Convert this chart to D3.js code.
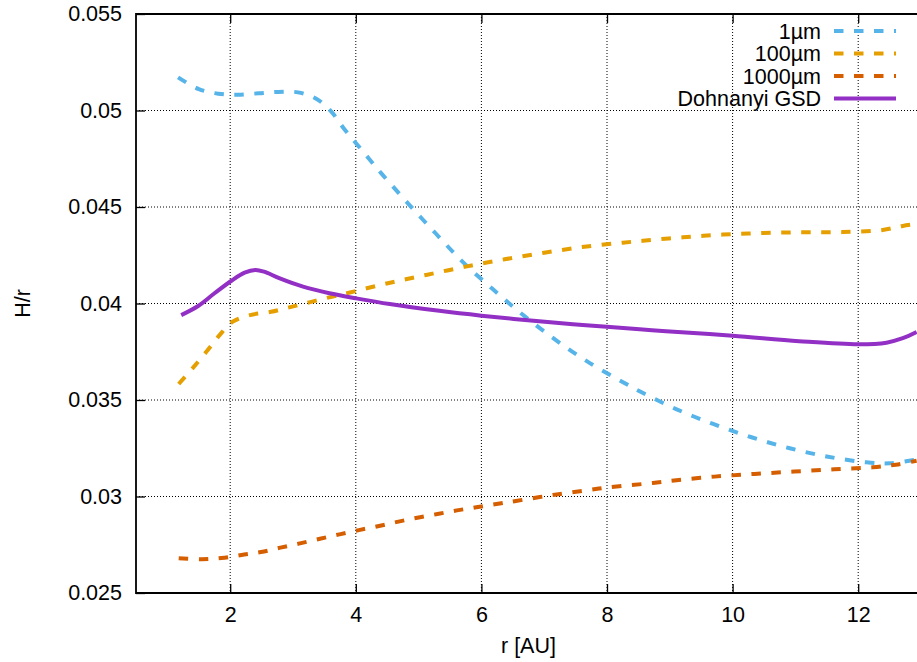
<!DOCTYPE html>
<html>
<head>
<meta charset="utf-8">
<script src="https://cdn.jsdelivr.net/npm/d3@7"></script>
<style>
  body { margin: 0; background: #fff; }
  svg { display: block; font-family: 'Liberation Sans', Arial, sans-serif; }
</style>
</head>
<body>
<div id="viz"></div>
<script>
// Données
const r1um = [1.17, 1.5, 1.81, 2.11, 2.45, 2.76, 3.08, 3.37, 3.61, 3.80, 4.0, 4.21, 4.41, 4.83, 5.27, 5.71, 6.18, 6.65, 7.17, 7.69, 8.24, 8.52, 9.10, 9.69, 10.30, 10.91, 11.52, 12.13, 12.50, 12.93];
const h1um = [0.05172, 0.05111, 0.05087, 0.05082, 0.05089, 0.05096, 0.05094, 0.05061, 0.04994, 0.04911, 0.04832, 0.0475, 0.04673, 0.04519, 0.04364, 0.04213, 0.04075, 0.03944, 0.03814, 0.03699, 0.03595, 0.03545, 0.03453, 0.03376, 0.03307, 0.0325, 0.03206, 0.03177, 0.03172, 0.03192];

const r100um = [1.18, 1.40, 1.62, 1.82, 2.04, 2.32, 2.65, 2.94, 3.26, 3.58, 3.89, 4.51, 5.12, 5.75, 6.37, 7.0, 7.64, 8.25, 8.57, 9.21, 9.84, 10.48, 11.12, 11.75, 12.39, 12.71, 12.93];
const h100um = [0.03583, 0.03664, 0.0375, 0.03832, 0.03906, 0.0394, 0.03957, 0.0398, 0.04006, 0.04032, 0.04056, 0.04105, 0.04148, 0.04191, 0.04229, 0.04263, 0.04294, 0.04315, 0.04325, 0.04343, 0.04357, 0.04365, 0.04369, 0.0437, 0.04381, 0.04402, 0.04412];

const r1000um = [1.18, 1.55, 1.86, 2.18, 2.49, 2.80, 3.11, 3.43, 3.74, 4.05, 4.37, 4.68, 4.98, 5.30, 5.61, 5.92, 6.24, 6.55, 7.14, 7.72, 8.04, 8.73, 9.07, 9.71, 10.35, 10.98, 11.62, 12.23, 12.6, 12.93];
const h1000um = [0.0268, 0.02675, 0.02681, 0.02697, 0.02712, 0.02735, 0.02757, 0.02781, 0.02804, 0.02826, 0.02847, 0.0287, 0.0289, 0.02909, 0.02928, 0.02944, 0.02961, 0.02977, 0.03008, 0.03034, 0.03048, 0.0307, 0.03083, 0.03103, 0.03117, 0.03129, 0.03141, 0.03151, 0.03165, 0.03185];

const rGSD = [1.22, 1.49, 1.75, 2.02, 2.23, 2.40, 2.54, 2.78, 3.16, 3.58, 4.0, 4.54, 5.33, 6.0, 6.92, 7.72, 8.52, 8.94, 10.0, 11.06, 12.0, 12.45, 12.71, 12.93];
const hGSD = [0.0394, 0.03987, 0.04053, 0.04118, 0.0416, 0.04174, 0.04165, 0.04131, 0.04087, 0.04053, 0.04027, 0.03997, 0.03962, 0.03937, 0.03908, 0.03886, 0.03866, 0.03856, 0.03833, 0.03805, 0.03789, 0.03797, 0.0382, 0.03852];

const seriesNames = ['1µm', '100µm', '1000µm', 'Dohnanyi GSD'];
const seriesColors = ['#56b4e9', '#e69f00', '#d55e00', '#922fc4'];
const seriesDashed = [true, true, true, false];

const xTicks = [2, 4, 6, 8, 10, 12];
const yTicks = [0.025, 0.03, 0.035, 0.04, 0.045, 0.05, 0.055];
const xDomain = [0.5, 13];
const yDomain = [0.025, 0.055];

const config = {
  width: 917,
  height: 662,
  margin: { left: 136, top: 14, right: -4, bottom: 69 },
  fontSize: 21.5,
  tickSize: 9,
  lineWidth: 4,
  dash: '9.5,10.5'
};
const plotW = config.width - config.margin.left - config.margin.right;
const plotH = config.height - config.margin.top - config.margin.bottom;

const svg = d3.select('#viz').append('svg')
  .attr('width', config.width)
  .attr('height', config.height);

const g = svg.append('g')
  .attr('transform', `translate(${config.margin.left}, ${config.margin.top})`);

const xScale = d3.scaleLinear().domain(xDomain).range([0, plotW]);
const yScale = d3.scaleLinear().domain(yDomain).range([plotH, 0]);

const data = [
  r1um.map((r, i) => ({ r: r, h: h1um[i] })),
  r100um.map((r, i) => ({ r: r, h: h100um[i] })),
  r1000um.map((r, i) => ({ r: r, h: h1000um[i] })),
  rGSD.map((r, i) => ({ r: r, h: hGSD[i] }))
];

drawGrid();
drawAxes();
drawLines();
drawLabels();
drawLegend();

/**
 * Grille pointillée
 */
function drawGrid () {
  const grid = g.append('g').attr('class', 'grid')
    .attr('stroke', '#000')
    .attr('stroke-width', 1)
    .attr('stroke-dasharray', '1,2');

  grid.selectAll('.vgrid')
    .data(xTicks)
    .enter()
    .append('line')
    .attr('x1', d => xScale(d)).attr('x2', d => xScale(d))
    .attr('y1', 0).attr('y2', plotH);

  grid.selectAll('.hgrid')
    .data(yTicks.slice(1, -1))
    .enter()
    .append('line')
    .attr('x1', 0).attr('x2', plotW)
    .attr('y1', d => yScale(d)).attr('y2', d => yScale(d));
}

/**
 * Axes façon gnuplot : ticks vers l'intérieur, miroir en haut
 */
function drawAxes () {
  const fmt = d => String(+d.toFixed(3));

  const xAxis = g.append('g')
    .attr('class', 'x axis')
    .attr('transform', `translate(0, ${plotH})`)
    .call(d3.axisBottom(xScale).tickValues(xTicks).tickSize(-config.tickSize).tickPadding(22).tickSizeOuter(0));

  const xTop = g.append('g')
    .attr('class', 'x axis top')
    .call(d3.axisTop(xScale).tickValues(xTicks).tickSize(-config.tickSize).tickFormat('').tickSizeOuter(0));

  const yAxis = g.append('g')
    .attr('class', 'y axis')
    .call(d3.axisLeft(yScale).tickValues(yTicks).tickFormat(fmt).tickSize(-config.tickSize).tickPadding(14).tickSizeOuter(0));

  [xAxis, xTop, yAxis].forEach(a => {
    a.select('.domain').remove();
    a.selectAll('line').attr('stroke', '#000').attr('stroke-width', 1.3);
    a.selectAll('text')
      .attr('fill', '#000')
      .attr('font-size', config.fontSize)
      .attr('font-family', "'Liberation Sans', Arial, sans-serif");
  });
  xAxis.selectAll('text').attr('dy', null).attr('y', 29);

  // Bordure (la droite est hors cadre)
  g.append('path')
    .attr('d', `M${plotW},0H0V${plotH}H${plotW}`)
    .attr('fill', 'none')
    .attr('stroke', '#000')
    .attr('stroke-width', 1.8);
}

/**
 * Courbes H/r
 */
function drawLines () {
  g.append('clipPath').attr('id', 'clip')
    .append('rect').attr('width', plotW).attr('height', plotH);

  const line = d3.line()
    .x(d => xScale(d.r))
    .y(d => yScale(d.h))
    .curve(d3.curveCatmullRom.alpha(0.5));

  g.append('g').attr('clip-path', 'url(#clip)')
    .selectAll('path')
    .data(data)
    .enter()
    .append('path')
    .attr('d', line)
    .attr('fill', 'none')
    .attr('stroke', (d, i) => seriesColors[i])
    .attr('stroke-width', config.lineWidth)
    .attr('stroke-dasharray', (d, i) => seriesDashed[i] ? config.dash : null);
}

/**
 * Titres des axes
 */
function drawLabels () {
  g.append('text')
    .text('r [AU]')
    .attr('x', plotW / 2)
    .attr('y', plotH + 60)
    .attr('text-anchor', 'middle')
    .attr('font-size', config.fontSize);

  g.append('text')
    .text('H/r')
    .attr('transform', `translate(${30 - config.margin.left}, ${plotH / 2}),rotate(-90)`)
    .attr('text-anchor', 'middle')
    .attr('font-size', config.fontSize);
}

/**
 * Légende en haut à droite
 */
function drawLegend () {
  const legend = g.append('g').attr('class', 'legend')
    .attr('transform', `translate(${821 - config.margin.left}, ${31 - config.margin.top})`);

  const cells = legend.selectAll('.cell')
    .data(seriesNames)
    .enter()
    .append('g')
    .attr('class', 'cell')
    .attr('transform', (d, i) => 'translate(0,' + 22.5 * i + ')');

  cells.append('text')
    .text(d => d)
    .attr('text-anchor', 'end')
    .attr('y', 7.7)
    .attr('font-size', config.fontSize);

  cells.append('line')
    .attr('x1', 13).attr('x2', 75)
    .attr('stroke', (d, i) => seriesColors[i])
    .attr('stroke-width', config.lineWidth)
    .attr('stroke-dasharray', (d, i) => seriesDashed[i] ? config.dash : null);
}
</script>
</body>
</html>
